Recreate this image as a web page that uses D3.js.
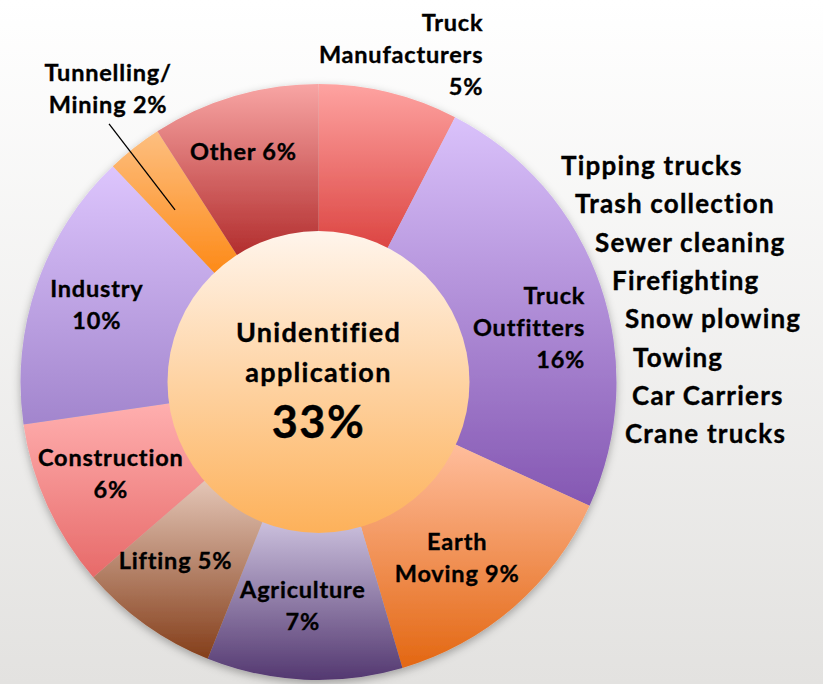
<!DOCTYPE html>
<html>
<head>
<meta charset="utf-8">
<script src="https://cdn.jsdelivr.net/npm/d3@7"></script>
<style>
  body { margin: 0; }
  text { font-family: Lato, "Open Sans", sans-serif; font-weight: bold; fill: #000;
         stroke: #000; stroke-width: 0.35px; }
</style>
</head>
<body>
<div id="chart"></div>
<script>
// chart values
var categories = ["Truck Manufacturers", "Truck Outfitters", "Earth Moving", "Agriculture",
                  "Lifting", "Construction", "Industry", "Tunnelling/Mining", "Other"];
var shares = [5, 16, 9, 7, 5, 6, 10, 2, 6];
var labelLines = [["Truck", "Manufacturers", "5%"], ["Truck", "Outfitters", "16%"],
                  ["Earth", "Moving 9%"], ["Agriculture", "7%"], ["Lifting 5%"],
                  ["Construction", "6%"], ["Industry", "10%"], ["Tunnelling/", "Mining 2%"],
                  ["Other 6%"]];
var centerLines = ["Unidentified", "application"];
var unidentified = 33;
var outfitterUses = ["Tipping trucks", "Trash collection", "Sewer cleaning", "Firefighting",
                     "Snow plowing", "Towing", "Car Carriers", "Crane trucks"];

// colours (top, bottom of each slice gradient)
var sliceColors = [["#fea3a1", "#dc4542"], ["#dac2fb", "#8457b2"], ["#ffbd9c", "#e36712"],
                   ["#cbc0dd", "#533870"], ["#e4c6b7", "#843e1a"], ["#ffafaf", "#e76a69"],
                   ["#ddc5fd", "#a285cd"], ["#fdbf80", "#fd8a18"], ["#f8a5a4", "#b22d2d"]];

// label nudges relative to slice centroid
var labelNudge = [
  {anchor: "end", dx: 112, dy: -101}, {anchor: "end", dx: 55, dy: 27},
  {anchor: "middle", dx: -8, dy: 15}, {anchor: "middle", dx: -5, dy: 8},
  {anchor: "middle", dx: -13, dy: 5}, {anchor: "middle", dx: -4, dy: 7},
  {anchor: "middle", dx: -10, dy: 4}, {anchor: "middle", dx: -72, dy: -109},
  {anchor: "middle", dx: -12, dy: -7}
];
var usesX = [561, 575, 595, 612, 625, 633, 632, 625];

var width = 823, height = 684;
var cx = 318.5, cy = 382, outerR = 298, innerR = 150;
var lineH = 32;

var svg = d3.select("#chart").append("svg")
  .attr("width", width)
  .attr("height", height);

var defs = svg.append("defs");

var bg = defs.append("linearGradient").attr("id", "bg")
  .attr("x1", 0).attr("y1", 0).attr("x2", 0).attr("y2", 1);
bg.append("stop").attr("offset", "0%").attr("stop-color", "#ffffff");
bg.append("stop").attr("offset", "100%").attr("stop-color", "#e3e2e0");

sliceColors.forEach(function(c, i) {
  var g = defs.append("linearGradient").attr("id", "sl" + i)
    .attr("x1", 0).attr("y1", 0).attr("x2", 0).attr("y2", 1);
  g.append("stop").attr("offset", "0%").attr("stop-color", c[0]);
  g.append("stop").attr("offset", "100%").attr("stop-color", c[1]);
});

var cg = defs.append("linearGradient").attr("id", "centerGrad")
  .attr("x1", 0).attr("y1", 0).attr("x2", 0).attr("y2", 1);
cg.append("stop").attr("offset", "0%").attr("stop-color", "#fff5ec");
cg.append("stop").attr("offset", "100%").attr("stop-color", "#fdb15a");

var shadow = defs.append("filter").attr("id", "shadow")
  .attr("x", "-10%").attr("y", "-10%").attr("width", "120%").attr("height", "120%");
shadow.append("feDropShadow")
  .attr("dx", 0).attr("dy", 3).attr("stdDeviation", 4)
  .attr("flood-color", "#000").attr("flood-opacity", 0.3);

svg.append("rect")
  .attr("width", width).attr("height", height)
  .attr("fill", "url(#bg)");

// donut
var pie = d3.pie().sort(null).value(function(d) { return d; });
var arc = d3.arc().innerRadius(innerR).outerRadius(outerR);
var arcs = pie(shares);

var ring = svg.append("g")
  .attr("transform", "translate(" + cx + "," + cy + ")");

ring.append("g")
  .attr("filter", "url(#shadow)")
  .selectAll("path")
  .data(arcs)
  .enter()
  .append("path")
    .attr("d", arc)
    .attr("fill", function(d, i) { return "url(#sl" + i + ")"; });

ring.append("circle")
  .attr("r", innerR + 1)
  .attr("fill", "url(#centerGrad)");

// leader line for the tiny slice
var tm = 7;
var labelArc = d3.arc().innerRadius(224).outerRadius(224);
var tc = labelArc.centroid(arcs[tm]);
ring.append("line")
  .attr("x1", tc[0] + labelNudge[tm].dx + 1)
  .attr("y1", tc[1] + labelNudge[tm].dy + 27)
  .attr("x2", tc[0] - 5)
  .attr("y2", tc[1] + 4)
  .attr("stroke", "#000")
  .attr("stroke-width", 1.3);

// slice labels
arcs.forEach(function(d, i) {
  var c = labelArc.centroid(d);
  var n = labelNudge[i];
  var lines = labelLines[i];
  var t = ring.append("text")
    .attr("text-anchor", n.anchor)
    .attr("font-size", "23.5px")
    .attr("letter-spacing", "0.8px");
  lines.forEach(function(s, j) {
    t.append("tspan")
      .attr("x", c[0] + n.dx)
      .attr("y", c[1] + n.dy + (j - (lines.length - 1) / 2) * lineH)
      .text(s);
  });
});

// centre text
ring.selectAll(".ctr")
  .data(centerLines)
  .enter()
  .append("text")
    .attr("class", "ctr")
    .attr("text-anchor", "middle")
    .attr("font-size", "27px")
    .attr("letter-spacing", "1.3px")
    .attr("y", function(d, i) { return -40 + i * 40; })
    .text(function(d) { return d; });

ring.append("text")
  .attr("text-anchor", "middle")
  .attr("font-size", "45px")
  .attr("letter-spacing", "1.5px")
  .attr("y", 56)
  .text(unidentified + "%");

// list of truck outfitter uses
svg.append("g")
  .selectAll("text")
  .data(outfitterUses)
  .enter()
  .append("text")
    .attr("x", function(d, i) { return usesX[i]; })
    .attr("y", function(d, i) { return 175 + i * 38.3; })
    .attr("font-size", "26px")
    .attr("letter-spacing", "1.2px")
    .text(function(d) { return d; });
</script>
</body>
</html>
